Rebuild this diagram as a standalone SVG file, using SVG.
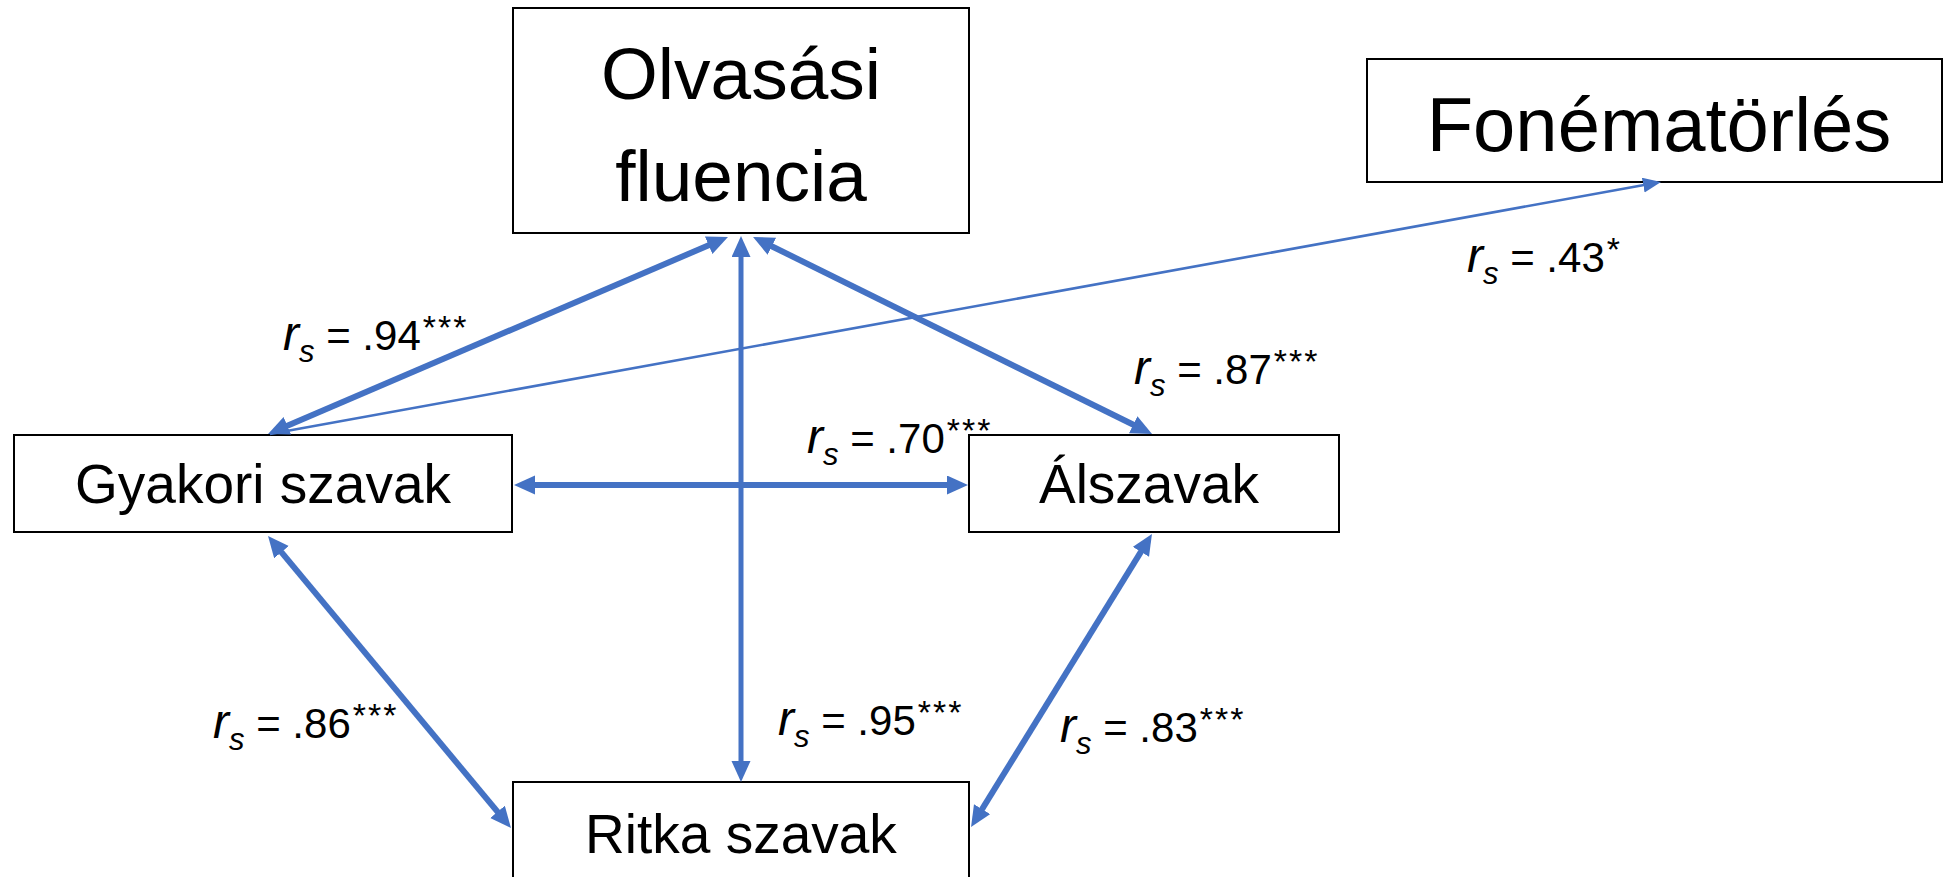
<svg xmlns="http://www.w3.org/2000/svg" width="1944" height="877" viewBox="0 0 1944 877">
<style>
.box{fill:#fff;stroke:#000;stroke-width:2}
.nt{font-family:"Liberation Sans",Arial,sans-serif;fill:#000;text-anchor:middle}
.lb{font-family:"Liberation Sans",Arial,sans-serif;fill:#000;font-size:42px}
.r{font-style:italic;font-size:48px}
.s{font-style:italic;font-size:31px}
.st{font-size:34px;letter-spacing:2px}
.c{stroke:#4472C4;stroke-width:6;fill:none}
.cv{stroke:#4472C4;stroke-width:5;fill:none}
.ct{stroke:#4472C4;stroke-width:2.6;fill:none}
</style>
<defs>
<marker id="ah" markerUnits="userSpaceOnUse" markerWidth="22" markerHeight="20" refX="7" refY="9.5" orient="auto-start-reverse">
<path d="M0,0 L21,9.5 L0,19 z" fill="#4472C4"/>
</marker>
<marker id="aht" markerUnits="userSpaceOnUse" markerWidth="19" markerHeight="16" refX="5" refY="7.5" orient="auto">
<path d="M0,0 L18,7.5 L0,15 z" fill="#4472C4"/>
</marker>
</defs>
<rect width="1944" height="877" fill="#fff"/>

<g id="node-olvasasi">
<rect class="box" x="513" y="8" width="456" height="225"/>
<text class="nt" x="741" y="99" font-size="73">Olvasási</text>
<text class="nt" x="741" y="201" font-size="73">fluencia</text>
</g>
<g id="node-fonema">
<rect class="box" x="1367" y="59" width="575" height="123"/>
<text class="nt" x="1659" y="151" font-size="76">Fonématörlés</text>
</g>
<g id="node-gyakori">
<rect class="box" x="14" y="435" width="498" height="97"/>
<text class="nt" x="263" y="503" font-size="55">Gyakori szavak</text>
</g>
<g id="node-alszavak">
<rect class="box" x="969" y="435" width="370" height="97"/>
<text class="nt" x="1149" y="503" font-size="55">Álszavak</text>
</g>
<g id="node-ritka">
<rect class="box" x="513" y="782" width="456" height="100"/>
<text class="nt" x="741" y="853" font-size="55">Ritka szavak</text>
</g>

<g id="connectors">
<line class="c" x1="715.1" y1="242.5" x2="280.9" y2="428.5" marker-start="url(#ah)" marker-end="url(#ah)"/>
<line class="cv" x1="741" y1="250" x2="741" y2="768" marker-start="url(#ah)" marker-end="url(#ah)"/>
<line class="c" x1="765.6" y1="243.2" x2="1139.5" y2="427.8" marker-start="url(#ah)" marker-end="url(#ah)"/>
<line class="c" x1="528" y1="485" x2="954" y2="485" marker-start="url(#ah)" marker-end="url(#ah)"/>
<line class="c" x1="277" y1="546.8" x2="502" y2="817.2" marker-start="url(#ah)" marker-end="url(#ah)"/>
<line class="c" x1="1144.6" y1="545.9" x2="978.4" y2="815.1" marker-start="url(#ah)" marker-end="url(#ah)"/>
<line class="ct" x1="270" y1="434" x2="1648.2" y2="184.3" marker-end="url(#aht)"/>
</g>

<g id="labels">
<text class="lb" x="283" y="350"><tspan class="r">r</tspan><tspan class="s" y="362">s</tspan><tspan y="350"> = .94</tspan><tspan class="st" y="339" dx="2">***</tspan></text>
<text class="lb" x="1134" y="384"><tspan class="r">r</tspan><tspan class="s" y="396">s</tspan><tspan y="384"> = .87</tspan><tspan class="st" y="373" dx="2">***</tspan></text>
<text class="lb" x="807" y="453"><tspan class="r">r</tspan><tspan class="s" y="465">s</tspan><tspan y="453"> = .70</tspan><tspan class="st" y="442" dx="2">***</tspan></text>
<text class="lb" x="1467" y="272"><tspan class="r">r</tspan><tspan class="s" y="284">s</tspan><tspan y="272"> = .43</tspan><tspan class="st" y="261" dx="2">*</tspan></text>
<text class="lb" x="213" y="738"><tspan class="r">r</tspan><tspan class="s" y="750">s</tspan><tspan y="738"> = .86</tspan><tspan class="st" y="727" dx="2">***</tspan></text>
<text class="lb" x="778" y="735"><tspan class="r">r</tspan><tspan class="s" y="747">s</tspan><tspan y="735"> = .95</tspan><tspan class="st" y="724" dx="2">***</tspan></text>
<text class="lb" x="1060" y="742"><tspan class="r">r</tspan><tspan class="s" y="754">s</tspan><tspan y="742"> = .83</tspan><tspan class="st" y="731" dx="2">***</tspan></text>
</g>
</svg>
